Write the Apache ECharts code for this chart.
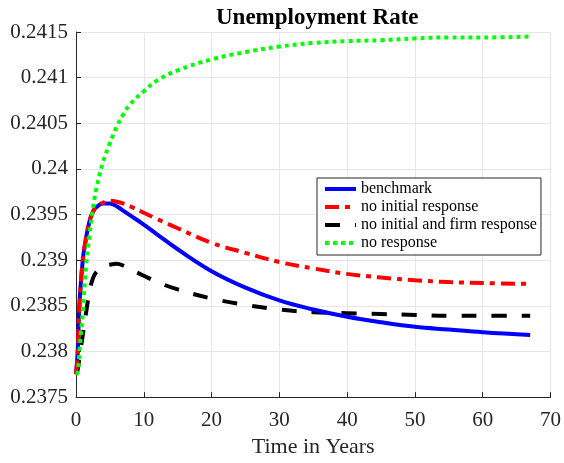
<!DOCTYPE html>
<html>
<head>
<meta charset="utf-8">
<script src="https://cdn.jsdelivr.net/npm/echarts@6/dist/echarts.min.js"></script>
<style>
  html, body { margin: 0; padding: 0; background: #fff; }
  #chart { width: 564px; height: 463px; }
</style>
</head>
<body>
<div id="chart"></div>
<script>
// 时间（年）
var years = [0, 0.25, 0.5, 1, 1.5, 2, 2.5, 3, 4, 5, 6, 7, 8, 10, 12, 15, 20, 25, 30, 35, 40, 45, 50, 55, 60, 67];

var benchmark = [0.23775, 0.2380, 0.2385, 0.2390, 0.23925, 0.23943, 0.23953, 0.23958, 0.23962, 0.23962, 0.23959, 0.23954, 0.23949,
    0.23939, 0.23928, 0.23912, 0.23888, 0.23870, 0.23856, 0.23846, 0.23838, 0.23832, 0.23827, 0.23824, 0.23821, 0.23818];

var noInitial = [0.23775, 0.2380, 0.2385, 0.2390, 0.23925, 0.23943, 0.23953, 0.23959, 0.23963, 0.23965, 0.23964, 0.23962, 0.23959,
    0.23952, 0.23945, 0.23935, 0.23919, 0.23908, 0.23898, 0.23891, 0.23885, 0.23881, 0.23878, 0.23876, 0.23875, 0.23874];

var noInitialFirm = [0.23775, 0.23780, 0.23793, 0.23818, 0.23843, 0.23866, 0.2388, 0.23887, 0.23893, 0.23895, 0.23896, 0.23894, 0.2389,
    0.23883, 0.23876, 0.23868, 0.23858, 0.23851, 0.23846, 0.23843, 0.23842, 0.23841, 0.2384, 0.23839, 0.23839, 0.23839];

var noResponse = [0.23775, 0.23777, 0.2380, 0.23843, 0.23895, 0.23928, 0.23957, 0.23978, 0.24008, 0.24028, 0.24046, 0.2406, 0.24071,
    0.24085, 0.24097, 0.24108, 0.2412, 0.24128, 0.24134, 0.24138, 0.2414, 0.24141, 0.24143, 0.24144, 0.24144, 0.24145];

var names = ['benchmark', 'no initial response', 'no initial and firm response', 'no response'];

function pairs(ys) {
    return years.map(function (t, i) { return [t, ys[i]]; });
}

var chart = echarts.init(document.getElementById('chart'));
var font = 'Liberation Serif';

var option = {
    animation: false,
    backgroundColor: '#fff',
    title: {
        text: 'Unemployment Rate',
        left: 211,
        top: 2,
        textStyle: { fontFamily: font, fontWeight: 'bold', fontSize: 23, color: '#000' }
    },
    grid: { left: 76, right: 11, top: 32, bottom: 62 },
    legend: {
        orient: 'vertical',
        left: 317,
        top: 178,
        padding: [3, 4, 4, 6],
        itemGap: 2,
        itemWidth: 31,
        itemHeight: 14,
        backgroundColor: '#fff',
        borderColor: '#262626',
        borderWidth: 1,
        borderRadius: 0,
        // 只显示线型，不要圆点
        itemStyle: { color: 'transparent', borderColor: 'transparent', borderWidth: 0, opacity: 0 },
        lineStyle: { width: 4 },
        textStyle: { fontFamily: font, fontSize: 16, color: '#000' },
        data: names
    },
    xAxis: {
        type: 'value',
        min: 0, max: 70, interval: 10,
        name: 'Time in Years',
        nameLocation: 'middle',
        nameGap: 36,
        nameTextStyle: { fontFamily: font, fontSize: 22, color: '#262626' },
        axisLine: { lineStyle: { color: '#262626', width: 1 } },
        axisTick: { inside: true, length: 5, lineStyle: { color: '#262626' } },
        axisLabel: { fontFamily: font, fontSize: 21, color: '#262626', margin: 13 },
        splitLine: { lineStyle: { color: '#e6e6e6', width: 1 } }
    },
    yAxis: {
        type: 'value',
        min: 0.2375, max: 0.2415, interval: 0.0005,
        axisLine: { show: true, lineStyle: { color: '#262626', width: 1 } },
        axisTick: { show: true, inside: true, length: 5, lineStyle: { color: '#262626' } },
        axisLabel: {
            fontFamily: font, fontSize: 21, color: '#262626', margin: 8,
            formatter: function (v) { return String(parseFloat(v.toFixed(4))); }
        },
        splitLine: { lineStyle: { color: '#e6e6e6', width: 1 } }
    },
    series: [
        {
            name: names[0], type: 'line', data: pairs(benchmark),
            symbol: 'none', smooth: 0.4,
            lineStyle: { color: '#0000ff', width: 4 }, itemStyle: { color: '#0000ff' }, z: 3
        },
        {
            name: names[1], type: 'line', data: pairs(noInitial),
            symbol: 'none', smooth: 0.4,
            lineStyle: { color: '#ff0000', width: 4, type: [14, 6, 5, 6], cap: 'butt' }, itemStyle: { color: '#ff0000' }, z: 4
        },
        {
            name: names[2], type: 'line', data: pairs(noInitialFirm),
            symbol: 'none', smooth: 0.4,
            lineStyle: { color: '#000000', width: 4, type: [15, 15], cap: 'butt' }, itemStyle: { color: '#000000' }, z: 2
        },
        {
            name: names[3], type: 'line', data: pairs(noResponse),
            symbol: 'none', smooth: 0.4,
            lineStyle: { color: '#00ff00', width: 4, type: [4, 4], cap: 'butt' }, itemStyle: { color: '#00ff00' }, z: 5
        }
    ]
};

chart.setOption(option);
</script>
</body>
</html>
